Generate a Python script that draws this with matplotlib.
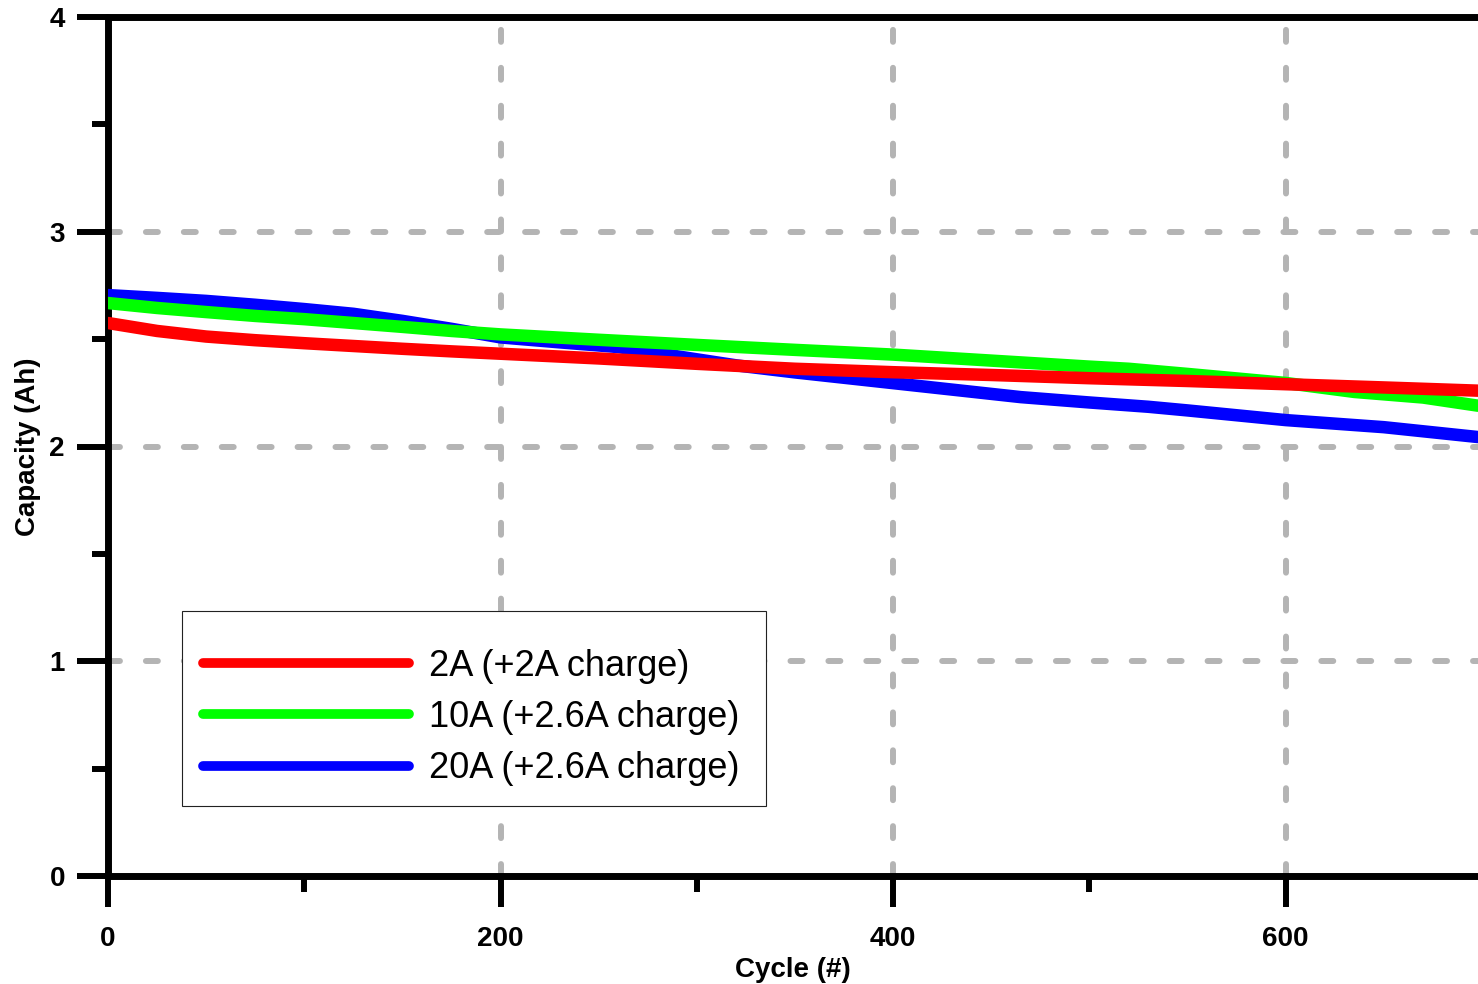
import matplotlib
matplotlib.use('Agg')
import matplotlib.pyplot as plt
from matplotlib.patches import Rectangle
from matplotlib.ticker import MultipleLocator

plt.rcParams['font.family'] = ['Liberation Sans', 'DejaVu Sans']
plt.rcParams['lines.scale_dashes'] = False

# capacity fade data
red_cyc = [0, 25, 50, 75, 100, 125, 150, 175, 200, 250, 300, 350, 400, 450, 500, 550, 600, 650, 698]
red_cap = [2.575, 2.538, 2.512, 2.495, 2.481, 2.468, 2.455, 2.443, 2.432, 2.410, 2.385, 2.362,
           2.346, 2.333, 2.318, 2.305, 2.290, 2.275, 2.260]

green_cyc = [0, 25, 50, 75, 100, 125, 150, 175, 200, 250, 300, 350, 400, 450, 500, 520, 550, 600, 635, 670, 698]
green_cap = [2.668, 2.645, 2.626, 2.608, 2.593, 2.575, 2.557, 2.538, 2.522, 2.497, 2.473, 2.450,
             2.428, 2.400, 2.372, 2.362, 2.338, 2.296, 2.254, 2.228, 2.190]

blue_cyc = [0, 25, 50, 75, 100, 125, 150, 175, 200, 230, 260, 290, 320, 350, 380, 400, 430, 465,
            500, 530, 550, 600, 650, 698]
blue_cap = [2.705, 2.692, 2.678, 2.660, 2.640, 2.618, 2.585, 2.548, 2.508, 2.485, 2.463, 2.420,
            2.378, 2.345, 2.315, 2.295, 2.265, 2.230, 2.205, 2.185, 2.168, 2.123, 2.090, 2.044]

labels = ['2A (+2A charge)', '10A (+2.6A charge)', '20A (+2.6A charge)']

fig = plt.figure(figsize=(14.78, 9.84), dpi=100)
ax = fig.add_axes([108 / 1478, 108 / 984, 1370 / 1478, 859 / 984])

lw = 9
lb, = ax.plot(blue_cyc, blue_cap, color='#0000ff', lw=lw, solid_capstyle='round', solid_joinstyle='round', zorder=3)
lg, = ax.plot(green_cyc, green_cap, color='#00ff00', lw=lw, solid_capstyle='round', solid_joinstyle='round', zorder=4)
lr, = ax.plot(red_cyc, red_cap, color='#ff0000', lw=lw, solid_capstyle='round', solid_joinstyle='round', zorder=5)

ax.set_xlim(0, 698)
ax.set_ylim(0, 4)
ax.xaxis.set_major_locator(MultipleLocator(200))
ax.xaxis.set_minor_locator(MultipleLocator(100))
ax.yaxis.set_major_locator(MultipleLocator(1))
ax.yaxis.set_minor_locator(MultipleLocator(0.5))

# grid
for gx in [200, 400, 600]:
    ax.axvline(gx, color='#b4b4b4', lw=4.3, ls=(0, (8.6, 18.7)), dash_capstyle='round', zorder=1)
for gy in [1, 2, 3]:
    ax.axhline(gy, color='#b4b4b4', lw=4.3, ls=(0, (8.6, 18.7)), dash_capstyle='round', zorder=1)

ax.spines['right'].set_visible(False)
for s in ['left', 'bottom', 'top']:
    ax.spines[s].set_linewidth(5)
    ax.spines[s].set_capstyle('round')

ax.tick_params(which='major', direction='out', length=22, width=4.3, labelsize=20)
ax.tick_params(which='minor', direction='out', length=11.5, width=4.3)
ax.tick_params(axis='x', which='major', pad=14)
ax.tick_params(axis='y', which='major', pad=9)
ax.tick_params(top=False, right=False, which='both')
for t in ax.get_xticklabels() + ax.get_yticklabels():
    t.set_fontweight('bold')

ax.set_xlabel('Cycle (#)', fontsize=20, fontweight='bold')
ax.set_ylabel('Capacity (Ah)', fontsize=20, fontweight='bold')
ax.xaxis.set_label_coords(0.5, -0.094)
ax.yaxis.set_label_coords(-0.049, 0.5)

# legend box drawn separately so the padding matches the original
ax.add_patch(Rectangle((0.054, 0.0815), 0.4263, 0.227, transform=ax.transAxes,
                       facecolor='white', edgecolor='#222222', lw=0.8, zorder=9))
leg = ax.legend([lr, lg, lb], labels, loc='upper left', bbox_to_anchor=(0.0694, 0.2643),
                borderaxespad=0, borderpad=0, fontsize=26, frameon=False,
                handlelength=5.7, handletextpad=0.55, labelspacing=0.446)
leg.set_zorder(10)
for h in leg.get_lines():
    h.set_linewidth(7)

fig.savefig('out.png', dpi=100)
